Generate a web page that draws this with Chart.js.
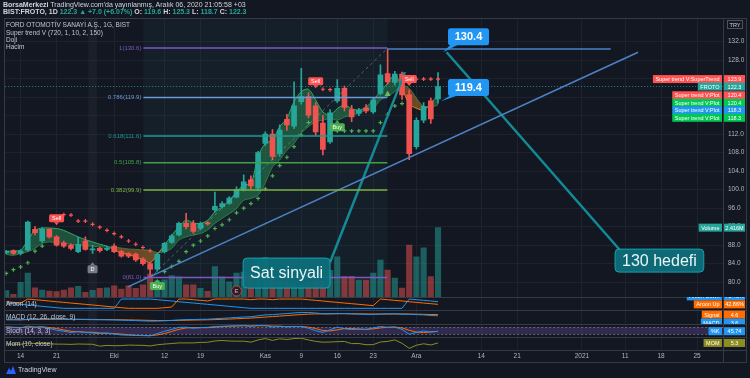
<!DOCTYPE html>
<html><head><meta charset="utf-8">
<script src="https://cdn.jsdelivr.net/npm/chart.js@4.4.1/dist/chart.umd.min.js"></script>
<style>
html,body{margin:0;padding:0;background:#131722;}
#wrap{position:relative;width:750px;height:378px;overflow:hidden;background:#131722;font-family:'Liberation Sans',Arial,sans-serif;}
canvas{position:absolute;left:0;top:0;}
.t{position:absolute;white-space:nowrap;color:#d1d4dc;font-size:7px;line-height:8px;}
.s{font-size:6.5px;color:#c3c6ce;}
.g{color:#26a69a;}
</style></head><body>
<div id="wrap">
<canvas id="c" width="750" height="378"></canvas>
<div class="t" style="left:3px;top:1px;"><b>BorsaMerkezi</b> TradingView.com'da yayınlanmış, Aralık 06, 2020 21:05:58 +03</div>
<div class="t" style="left:3px;top:8px;"><b>BIST:FROTO, 1D</b> <b class="g">122.3 ▲ +7.0 (+6.07%)</b> <b>O:</b> <b class="g">119.6</b> <b>H:</b> <b class="g">125.3</b> <b>L:</b> <b class="g">118.7</b> <b>C:</b> <b class="g">122.3</b></div>
<div class="t s" style="left:6px;top:21px;">FORD OTOMOTİV SANAYİ A.Ş., 1G, BIST</div>
<div class="t s" style="left:6px;top:28.5px;">Super trend V (720, 1, 10, 2, 150)</div>
<div class="t s" style="left:6px;top:36px;">Doji</div>
<div class="t s" style="left:6px;top:43px;">Hacim</div>
<div class="t s" style="left:6px;top:300px;">Aroon (14)</div>
<div class="t s" style="left:6px;top:313px;">MACD (12, 26, close, 9)</div>
<div class="t s" style="left:6px;top:326.5px;">Stoch (14, 3, 3)</div>
<div class="t s" style="left:6px;top:339.5px;">Mom (10, close)</div>
<svg style="position:absolute;left:5px;top:365px" width="12" height="10" viewBox="0 0 12 10"><path d="M1 9 L4 3 L6 6 L8 1 L11 9 Z" fill="#2962ff"/></svg>
<div class="t" style="left:18px;top:366px;">TradingView</div>
</div>
<script>
// ---------- DATA ----------
const dates = ['2020-09-10','2020-09-11','2020-09-14','2020-09-15','2020-09-16','2020-09-17','2020-09-18','2020-09-21','2020-09-22','2020-09-23','2020-09-24','2020-09-25','2020-09-28','2020-09-29','2020-09-30',
'2020-10-01','2020-10-02','2020-10-05','2020-10-06','2020-10-07','2020-10-08','2020-10-09','2020-10-12','2020-10-13','2020-10-14','2020-10-15','2020-10-16','2020-10-19','2020-10-20','2020-10-21','2020-10-22','2020-10-23','2020-10-26','2020-10-27','2020-10-28','2020-10-30',
'2020-11-02','2020-11-03','2020-11-04','2020-11-05','2020-11-06','2020-11-09','2020-11-10','2020-11-11','2020-11-12','2020-11-13','2020-11-16','2020-11-17','2020-11-18','2020-11-19','2020-11-20','2020-11-23','2020-11-24','2020-11-25','2020-11-26','2020-11-27','2020-11-30',
'2020-12-01','2020-12-02','2020-12-03','2020-12-04'];
const open  = [86.3,86.8,86.2,86.9,91.4,88.9,91.4,89.8,88.5,88.0,86.6,88.9,87.0,87.3,87.1,87.8,86.6,86.2,86.1,85.0,84.0,82.8,86.6,88.6,90.2,92.8,92.7,91.6,92.8,95.6,96.3,97.0,98.4,100.0,102.1,100.3,110.0,112.0,107.8,115.2,113.7,119.0,120.1,118.1,114.4,110.3,119.2,121.9,117.3,116.5,117.7,116.8,120.8,125.1,123.2,125.0,120.5,109.3,115.0,119.2,119.6];
const high  = [86.9,87.0,87.0,93.2,92.0,91.8,91.6,90.1,88.9,88.3,89.7,89.8,88.0,87.6,87.7,88.3,86.9,86.4,86.3,85.3,84.3,86.3,88.6,90.3,93.0,94.9,93.3,93.0,93.0,99.5,97.4,98.5,100.6,103.2,103.0,108.3,112.5,113.0,114.0,116.3,123.3,126.2,121.0,118.8,116.0,117.3,123.8,122.4,118.2,117.6,118.4,119.8,127.0,130.4,125.6,125.4,121.5,115.5,118.8,119.8,125.3];
const low   = [86.1,86.0,85.9,86.7,90.2,88.6,89.5,87.8,87.5,87.0,86.4,86.9,86.2,86.5,86.8,86.4,85.4,85.3,84.5,83.7,81.0,82.4,86.3,88.4,90.0,91.5,90.6,91.3,92.3,95.2,96.0,96.8,98.2,99.7,100.2,99.8,109.5,106.4,107.2,112.8,113.2,118.5,115.5,111.8,107.5,110.0,118.8,117.0,114.7,116.0,116.6,116.5,120.5,122.8,122.6,119.5,106.5,108.8,114.5,114.3,118.7];
const close = [86.7,86.2,86.7,93.0,90.7,91.4,89.8,88.0,87.8,87.3,88.2,87.1,87.2,86.8,87.3,86.6,85.6,85.6,84.8,84.0,82.8,86.0,88.4,90.0,92.7,92.0,91.0,92.7,92.6,96.4,97.0,98.2,100.0,101.7,100.8,108.0,112.0,107.2,112.9,114.0,118.1,120.1,116.1,112.5,108.7,116.6,121.9,117.8,115.7,117.2,117.0,119.4,124.8,123.3,125.0,120.5,107.8,115.0,118.0,115.3,122.3];
const volumeM = [0.22,0.09,0.51,0.83,0.32,0.24,0.21,0.19,0.24,0.32,0.37,0.16,0.23,0.30,0.32,0.39,0.28,0.39,0.30,0.42,0.80,0.57,0.60,0.75,0.70,0.42,0.42,0.30,0.20,1.06,0.70,0.53,0.83,0.87,0.80,1.30,1.37,0.65,0.55,0.50,0.45,0.45,0.50,0.55,0.55,0.93,1.40,0.72,0.72,0.59,0.59,0.83,1.29,0.94,0.66,0.31,1.81,1.40,1.71,0.71,2.416];
// Super trend V band (fast / slow) and stop crosses
const stFast = [86.6,86.8,86.9,89.1,91.2,91.7,91.7,91.6,91.2,90.5,89.8,89.2,88.7,88.2,87.8,87.0,86.3,86.0,85.4,84.9,84.2,86.0,88.0,90.1,92.0,93.4,92.8,92.7,93.4,95.2,96.3,97.7,99.5,101.0,101.3,107.1,110.0,110.7,113.6,115.4,119.0,121.2,121.7,119.4,116.8,116.1,117.5,118.3,117.5,117.2,117.8,119.4,121.2,123.0,124.8,122.0,118.5,117.6,117.2,118.7,120.4];
const stSlow = [86.0,85.8,86.2,86.6,87.3,88.4,88.7,88.5,88.4,88.2,88.0,87.8,87.8,87.6,87.6,87.6,87.4,87.2,87.1,87.0,86.9,86.4,86.6,87.3,89.1,89.8,90.2,90.5,91.3,92.7,93.8,94.8,95.9,97.7,98.1,98.8,101.5,104.9,106.4,108.5,110.0,112.2,113.6,114.7,115.0,115.4,115.0,115.7,116.1,116.5,117.2,117.5,119.4,120.1,121.2,122.5,121.9,119.8,118.0,117.8,118.3];
const stUp = [81.9,82.7,83.3,84.2,86.7,87.8,null,null,null,null,null,null,null,null,null,null,null,null,null,null,null,null,82.3,83.4,84.5,86.6,88.0,88.9,90.0,91.6,92.4,93.5,95.0,96.0,97.0,98.1,100.2,103.0,105.2,107.0,109.3,111.8,114.5,null,null,null,112.7,112.7,112.7,112.7,112.7,112.7,114.5,116.3,118.1,118.6,null,null,null,null,null];
const stDown = [null,null,null,null,null,null,null,null,94.6,94.5,93.2,93.2,92.5,91.9,91.2,90.5,89.8,88.9,88.2,87.5,86.8,null,null,null,null,null,null,null,null,null,null,null,null,null,null,null,null,null,null,null,null,null,null,null,121.7,121.6,null,null,null,null,null,null,null,null,null,null,null,123.9,123.9,123.9,123.9];
// indicators
const aroonUp = [71,64,57,100,93,86,79,71,64,57,50,43,36,29,21,14,7,0,0,0,0,0,7,14,100,100,93,86,79,100,100,100,100,100,93,100,100,93,100,100,100,100,93,86,79,71,64,57,50,43,36,29,100,93,86,79,71,64,57,50,42.86];
const aroonDown = [57,50,43,36,29,21,14,7,0,0,0,0,0,0,0,0,100,100,100,100,100,93,86,79,71,64,57,50,43,36,29,21,14,7,0,0,0,0,0,0,0,0,0,0,0,0,0,0,0,0,0,0,0,0,0,0,100,93,86,79,71.43];
const macdLine = [0.30,0.25,0.20,0.60,0.80,1.00,1.00,0.90,0.75,0.60,0.55,0.45,0.35,0.25,0.20,0.10,-0.10,-0.25,-0.45,-0.65,-0.90,-0.80,-0.55,-0.25,0.15,0.40,0.50,0.65,0.75,1.10,1.45,1.80,2.20,2.60,2.80,3.60,4.40,4.60,5.10,5.50,6.00,6.40,6.40,6.00,5.30,5.30,5.60,5.50,5.20,5.00,4.80,4.80,5.10,5.20,5.30,5.00,4.90,4.60,4.40,3.90,3.60];
const macdSignal = [0.40,0.38,0.34,0.39,0.47,0.58,0.66,0.71,0.72,0.70,0.67,0.63,0.57,0.51,0.45,0.38,0.28,0.17,0.05,-0.09,-0.25,-0.36,-0.40,-0.37,-0.26,-0.13,0.00,0.13,0.25,0.42,0.63,0.86,1.13,1.42,1.69,2.07,2.53,2.94,3.37,3.80,4.24,4.67,5.02,5.22,5.24,5.25,5.32,5.36,5.33,5.26,5.17,5.10,5.10,5.12,5.15,5.12,5.07,4.98,4.86,4.72,4.60];
const stochK = [85,78,75,92,80,84,70,55,45,35,42,35,30,25,28,20,12,10,8,6,5,25,45,62,80,82,72,78,80,88,90,92,94,96,88,97,98,82,90,85,88,87,72,50,35,58,82,68,60,65,62,75,88,80,82,62,18,35,48,38,45.74];
const stochD = [83,81,79,82,82,85,78,70,57,45,41,37,36,30,28,24,20,14,10,8,6,12,25,44,62,75,78,77,77,82,86,90,92,94,93,94,94,92,90,86,88,87,82,70,52,48,58,69,70,64,62,67,75,81,83,75,54,38,34,40,44];
const momentum = [2.0,1.0,0.3,5.2,3.1,4.0,2.2,1.1,0.9,0.2,1.5,0.9,0.5,-6.2,-3.4,-4.8,-4.2,-2.4,-3.0,-3.3,-5.4,-1.1,1.2,3.2,5.4,5.4,5.4,7.1,7.8,12.4,14.2,12.2,11.6,11.7,8.1,16.0,21.0,14.5,20.3,17.6,21.1,21.9,16.1,10.8,7.9,8.6,9.9,10.6,2.8,3.2,-1.1,-0.7,8.7,10.8,16.3,3.9,-14.1,-2.8,2.3,-1.9,5.3];
// axes
const tickIdx  = [2,7,15,22,27,36,41,46,51,57,66,71,80,86,91,96];
const tickText = ['14','21','Eki','12','19','Kas','9','16','23','Ara','14','21','2021','11','18','25'];
const priceTicks = [80,84,88,92,96,100,104,108,112,116,120,124,128,132];
// fibonacci drawing
const fibRatios = ['1','0.786','0.618','0.5','0.382','0'];
const fibPrices = [130.6,119.9,111.6,105.8,99.9,81.0];
const fibSpan = [19.07,52.96];
// drawings (bar index, price)
const trendBlue = [[16.9,79.0],[87.8,129.7]];
const level1304 = [[52.9,130.4],[84.0,130.4]];
const fibDiag = [[20,81.0],[53,130.6]];
const tealToSell = [[45.0,84.3],[55.4,125.4]];
const tealToTarget = [[61.2,129.7],[85.3,86.9]];
const signalTags = [{i:7,text:'Sell',p:92.3},{i:21,text:'Buy',p:80.7},{i:43,text:'Sell',p:121.9},{i:46,text:'Buy',p:115.0},{i:56,text:'Sell',p:122.4}];
const dojiTag = {i:12,p:84.3};
const earnIdx = 32;
const triIdx = 53, triPrice = 120.8;
const notes = [{text:'Sat sinyali',i:32.92,p:85.21},{text:'130 hedefi',i:84.6,p:87.15}];
const priceNotes = [{text:'130.4',i:61.39,p:134.9,ti:60.7,tp:129.7},{text:'119.4',i:61.39,p:123.9,ti:60.4,tp:119.1}];
const lastPrice = 122.3;
const rightNames = ['Super trend V:SuperTrend','FROTO','Super trend V:Plot','Super trend V:Plot','Super trend V:Plot','Super trend V:Plot'];
const rightValues = [123.9,122.3,120.4,120.4,118.3,118.3];

// ---------- STYLE ----------
const FF = "'Liberation Sans', Arial, sans-serif";
const UPC='#26a69a', DNC='#ef5350', GRID='#1e222d', BORDER='#363a45';
const rightColors = ['#ff5252','#26a69a','#ff5252','#00c853','#2196f3','#00c853'];
const fibColors = ['#7e57c2','#6a9bd8','#1e9c8f','#43a047','#7cb342','#7e57c2'];
Chart.defaults.font.family = FF;
Chart.defaults.font.size = 6.5;
Chart.defaults.color = '#b2b5be';

const isUp = i => close[i] >= open[i];
const pts = arr => arr.map((v,i)=> v==null?null:{x:i,y:v}).filter(Boolean);
const seg = (a,col,w,dash) => ({type:'line',data:a.map(q=>({x:q[0],y:q[1]})),yAxisID:'y',borderColor:col,borderWidth:w,borderDash:dash||[],pointRadius:0,fill:false,order:1});

function rr(ctx,x,y,w,h,r){ctx.beginPath();ctx.moveTo(x+r,y);ctx.arcTo(x+w,y,x+w,y+h,r);ctx.arcTo(x+w,y+h,x,y+h,r);ctx.arcTo(x,y+h,x,y,r);ctx.arcTo(x,y,x+w,y,r);ctx.closePath();}
function tag(ctx,cx,tip,text,color,down){
  ctx.font='5.5px '+FF;
  const w=Math.round(ctx.measureText(text).width)+6,h=8,g=3;
  ctx.fillStyle=color;
  let top;
  ctx.beginPath();
  if(down){top=tip-g-h;ctx.moveTo(cx-2.5,tip-g);ctx.lineTo(cx+2.5,tip-g);ctx.lineTo(cx,tip);}
  else{top=tip+g;ctx.moveTo(cx-2.5,tip+g);ctx.lineTo(cx+2.5,tip+g);ctx.lineTo(cx,tip);}
  ctx.closePath();ctx.fill();
  rr(ctx,cx-w/2,top,w,h,1.5);ctx.fill();
  ctx.fillStyle='#fff';ctx.textAlign='center';ctx.textBaseline='middle';
  ctx.fillText(text,cx,top+h/2+0.5);
}
function rlabel(ctx,ax,yc,name,val,bg){
  ctx.font='5.5px '+FF;
  const nw=ctx.measureText(name).width+5;
  ctx.fillStyle=bg;
  ctx.fillRect(ax-1-nw,yc-4,nw,8);
  ctx.fillRect(ax+1,yc-4,21,8);
  ctx.fillStyle='#fff';ctx.textAlign='center';ctx.textBaseline='middle';
  ctx.fillText(name,ax-1-nw/2,yc+0.5);
  ctx.fillText(val,ax+11.5,yc+0.5);
}
function stackLabels(list,gap,up){
  list.sort((a,b)=>a.y-b.y);
  if(!up){for(let k=1;k<list.length;k++) if(list[k].y-list[k-1].y<gap) list[k].y=list[k-1].y+gap;}
  else{for(let k=list.length-2;k>=0;k--) if(list[k+1].y-list[k].y<gap) list[k].y=list[k+1].y-gap;}
  return list;
}

const overlay = {
  id:'overlay',
  beforeDatasetsDraw(chart){
    const {ctx,chartArea:ca,scales:s}=chart;
    const X=v=>s.x.getPixelForValue(v), Y=v=>s.y.getPixelForValue(v);
    ctx.save();
    // fib range background
    ctx.fillStyle='rgba(40,110,120,0.10)';
    ctx.fillRect(X(fibSpan[0]),s.y.top,X(fibSpan[1])-X(fibSpan[0]),s.y.bottom-s.y.top);
    // doji bar highlight
    ctx.fillStyle='rgba(255,255,255,0.035)';
    ctx.fillRect(X(dojiTag.i-0.6),ca.top,X(dojiTag.i+0.6)-X(dojiTag.i-0.6),ca.bottom-ca.top);
    // stoch band
    const ys=s.yS;
    ctx.fillStyle='rgba(126,87,194,0.30)';
    ctx.fillRect(ca.left,ys.getPixelForValue(80),ca.right-ca.left,ys.getPixelForValue(20)-ys.getPixelForValue(80));
    ctx.strokeStyle='rgba(150,152,160,0.6)';ctx.lineWidth=1;ctx.setLineDash([2,2]);
    [80,20].forEach(v=>{const yy=Math.round(ys.getPixelForValue(v))+0.5;ctx.beginPath();ctx.moveTo(ca.left,yy);ctx.lineTo(ca.right,yy);ctx.stroke();});
    // last price line
    ctx.strokeStyle='rgba(38,166,154,0.8)';ctx.setLineDash([1,2]);
    const ly=Math.round(Y(lastPrice))+0.5;ctx.beginPath();ctx.moveTo(ca.left,ly);ctx.lineTo(ca.right,ly);ctx.stroke();
    ctx.setLineDash([]);
    ctx.restore();
  },
  afterDatasetsDraw(chart){
    const {ctx,chartArea:ca,scales:s}=chart;
    const X=v=>s.x.getPixelForValue(v), Y=v=>s.y.getPixelForValue(v);
    ctx.save();
    // fib labels
    ctx.font='6px '+FF;ctx.textAlign='right';ctx.textBaseline='middle';
    fibRatios.forEach((r,k)=>{ctx.fillStyle=fibColors[k];ctx.fillText(r+'('+fibPrices[k].toFixed(1)+')',X(fibSpan[0])-2,Y(fibPrices[k]));});
    // buy / sell tags
    signalTags.forEach(t=>tag(ctx,X(t.i),Y(t.p),t.text,t.text==='Sell'?'#ff5252':'#4caf50',t.text==='Sell'));
    // doji tag
    tag(ctx,X(dojiTag.i),Y(dojiTag.p),'D','#787b86',false);
    // earnings
    const ex=X(earnIdx), ey=s.y.bottom-6;
    ctx.beginPath();ctx.arc(ex,ey,5,0,Math.PI*2);ctx.fillStyle='#1e222d';ctx.fill();ctx.strokeStyle='#c2414a';ctx.lineWidth=1;ctx.stroke();
    ctx.fillStyle='#f08080';ctx.font='bold 6px '+FF;ctx.textAlign='center';ctx.fillText('E',ex,ey+0.5);
    // green triangle
    const tx=X(triIdx), ty=Y(triPrice);
    ctx.fillStyle='#66bb6a';ctx.beginPath();ctx.moveTo(tx-3,ty+2.5);ctx.lineTo(tx+3,ty+2.5);ctx.lineTo(tx,ty-3);ctx.closePath();ctx.fill();
    // teal callouts
    ctx.font='16px '+FF;
    notes.forEach(n=>{
      const w=ctx.measureText(n.text).width+14,h=n.text==='Sat sinyali'?30:23;
      const x0=X(n.i),y0=Y(n.p);
      rr(ctx,x0,y0,w,h,4);ctx.fillStyle='rgba(12,112,124,0.93)';ctx.fill();ctx.strokeStyle='#1aa0ad';ctx.lineWidth=1;ctx.stroke();
      ctx.fillStyle='#eaf6f6';ctx.textAlign='left';ctx.textBaseline='middle';ctx.fillText(n.text,x0+7,y0+h/2+1);
    });
    // price callouts
    ctx.font='bold 11px '+FF;
    priceNotes.forEach(n=>{
      const x0=X(n.i),y0=Y(n.p),w=41,h=17;
      ctx.fillStyle='#2196f3';
      ctx.beginPath();ctx.moveTo(x0+3,y0+h-1);ctx.lineTo(x0+11,y0+h-1);ctx.lineTo(X(n.ti),Y(n.tp));ctx.closePath();ctx.fill();
      rr(ctx,x0,y0,w,h,2.5);ctx.fill();
      ctx.fillStyle='#fff';ctx.textAlign='center';ctx.textBaseline='middle';ctx.fillText(n.text,x0+w/2,y0+h/2+0.5);
    });
    ctx.restore();
  },
  afterDraw(chart){
    const {ctx,chartArea:ca,scales:s}=chart;
    const ax=s.y.left;
    ctx.save();
    // frame & pane separators
    ctx.strokeStyle=BORDER;ctx.lineWidth=1;
    ctx.strokeRect(4.5,18.5,742,344);
    [s.yA.top,s.yM.top,s.yS.top,s.yO.top,ca.bottom].forEach(v=>{const yy=Math.round(v)+0.5;ctx.beginPath();ctx.moveTo(4,yy);ctx.lineTo(747,yy);ctx.stroke();});
    ctx.beginPath();ctx.moveTo(Math.round(ax)+0.5,18);ctx.lineTo(Math.round(ax)+0.5,362);ctx.stroke();
    // TRY box
    ctx.strokeStyle='#50535e';ctx.strokeRect(727.5,20.5,15,8);
    ctx.fillStyle='#d1d4dc';ctx.font='5.5px '+FF;ctx.textAlign='center';ctx.textBaseline='middle';ctx.fillText('TRY',735,25);
    // right price labels
    const list=stackLabels(rightNames.map((n,k)=>({n,v:rightValues[k],c:rightColors[k],y:s.y.getPixelForValue(rightValues[k])})),7.5,false);
    list.forEach(l=>rlabel(ctx,ax,l.y,l.n,l.v.toFixed(1),l.c));
    rlabel(ctx,ax,s.yV.getPixelForValue(volumeM[volumeM.length-1]),'Volume',volumeM[volumeM.length-1].toFixed(3)+'M','#26a69a');
    // indicator labels (clipped to panes)
    const pane=(sc,items,up)=>{
      ctx.save();ctx.beginPath();ctx.rect(0,sc.top,750,sc.bottom-sc.top);ctx.clip();
      stackLabels(items.map(it=>({...it,y:sc.getPixelForValue(it.v)})),8,up).forEach(l=>rlabel(ctx,ax,l.y,l.n,l.t,l.c));
      ctx.restore();
    };
    const L=a=>a[a.length-1];
    pane(s.yA,[{n:'Aroon Down',v:L(aroonDown),t:L(aroonDown).toFixed(2)+'%',c:'#2196f3'},{n:'Aroon Up',v:L(aroonUp),t:L(aroonUp).toFixed(2)+'%',c:'#ff6d00'}],true);
    pane(s.yM,[{n:'Signal',v:L(macdSignal),t:L(macdSignal).toFixed(1),c:'#ff6d00'},{n:'MACD',v:L(macdLine),t:L(macdLine).toFixed(1),c:'#2196f3'}],false);
    pane(s.yS,[{n:'%K',v:L(stochK),t:L(stochK).toFixed(2),c:'#2196f3'}],false);
    pane(s.yO,[{n:'MOM',v:L(momentum),t:L(momentum).toFixed(1),c:'#8d8d21'}],false);
    ctx.restore();
  }
};

const idxs = dates.map((d,i)=>i);
const datasets = [
  {type:'bar',label:'Hacim',data:idxs.map(i=>({x:i,y:volumeM[i]})),yAxisID:'yV',backgroundColor:c=>isUp(c.dataIndex)?'rgba(38,166,154,0.5)':'rgba(239,83,80,0.5)',barThickness:5.5,grouped:false,order:20},
  {type:'line',label:'stSlow',data:idxs.map(i=>({x:i,y:stSlow[i]})),yAxisID:'y',borderColor:'rgba(40,150,90,0.7)',borderWidth:1,pointRadius:0,tension:0.3,fill:false,order:15},
  {type:'line',label:'stFast',data:idxs.map(i=>({x:i,y:stFast[i]})),yAxisID:'y',borderWidth:1,pointRadius:0,tension:0.3,
    segment:{borderColor:c=>stFast[c.p0DataIndex]>=stSlow[c.p0DataIndex]?'#2fae66':'#e08a2a'},
    fill:{target:1,above:'rgba(46,160,95,0.42)',below:'rgba(215,130,40,0.45)'},order:14},
  {type:'bar',label:'wick',data:idxs.map(i=>({x:i,y:[low[i],high[i]]})),yAxisID:'y',backgroundColor:c=>isUp(c.dataIndex)?UPC:DNC,barThickness:1,grouped:false,order:6},
  {type:'bar',label:'body',data:idxs.map(i=>({x:i,y:[open[i],close[i]]})),yAxisID:'y',backgroundColor:c=>isUp(c.dataIndex)?UPC:DNC,barThickness:5,minBarLength:1,grouped:false,order:5},
  {type:'line',label:'stUp',data:pts(stUp),yAxisID:'y',showLine:false,pointStyle:'cross',pointRadius:2,pointBorderColor:'#4caf50',pointBorderWidth:1.2,order:4},
  {type:'line',label:'stDown',data:pts(stDown),yAxisID:'y',showLine:false,pointStyle:'cross',pointRadius:2,pointBorderColor:'#ff5252',pointBorderWidth:1.2,order:4},
  ...fibPrices.map((p,k)=>seg([[fibSpan[0],p],[fibSpan[1],p]],fibColors[k],1.5)),
  seg(fibDiag,'rgba(170,172,180,0.45)',1,[3,3]),
  seg(trendBlue,'#4d83c4',1.5),
  seg(level1304,'#4d83c4',1.5),
  seg(tealToSell,'#138a96',2.5),
  seg(tealToTarget,'#138a96',2.5),
  {type:'line',label:'Aroon Up',data:idxs.map(i=>({x:i,y:aroonUp[i]})),yAxisID:'yA',borderColor:'#ff6d00',borderWidth:1,pointRadius:0,order:3},
  {type:'line',label:'Aroon Down',data:idxs.map(i=>({x:i,y:aroonDown[i]})),yAxisID:'yA',borderColor:'#2196f3',borderWidth:1,pointRadius:0,order:3},
  {type:'line',label:'MACD',data:idxs.map(i=>({x:i,y:macdLine[i]})),yAxisID:'yM',borderColor:'#2196f3',borderWidth:1,pointRadius:0,order:3},
  {type:'line',label:'Signal',data:idxs.map(i=>({x:i,y:macdSignal[i]})),yAxisID:'yM',borderColor:'#ff6d00',borderWidth:1,pointRadius:0,order:3},
  {type:'line',label:'%K',data:idxs.map(i=>({x:i,y:stochK[i]})),yAxisID:'yS',borderColor:'#2196f3',borderWidth:1,pointRadius:0,order:3},
  {type:'line',label:'%D',data:idxs.map(i=>({x:i,y:stochD[i]})),yAxisID:'yS',borderColor:'#ff6d00',borderWidth:1,pointRadius:0,order:3},
  {type:'line',label:'Mom',data:idxs.map(i=>({x:i,y:momentum[i]})),yAxisID:'yO',borderColor:'#8d8d21',borderWidth:1,pointRadius:0,order:3}
];

const paneAxis = (w,min,max)=>({type:'linear',position:'right',stack:'panes',stackWeight:w,min,max,grid:{display:false},border:{color:BORDER},ticks:{display:false},afterFit:s=>{s.width=23;}});

new Chart(document.getElementById('c'),{
  type:'line',
  data:{datasets},
  options:{
    responsive:false,animation:false,
    layout:{padding:{left:5,right:4,top:18,bottom:16}},
    plugins:{legend:{display:false},tooltip:{enabled:false}},
    scales:{
      x:{type:'linear',min:-0.14,max:99.6,offset:false,
        grid:{color:GRID,drawTicks:false,offset:false},border:{color:BORDER},
        ticks:{autoSkip:false,maxRotation:0,padding:2,color:'#b2b5be',font:{size:6.5},callback:(v,k)=>tickText[k]},
        afterBuildTicks:s=>{s.ticks=tickIdx.map(v=>({value:v}));},
        afterFit:s=>{s.height=12;}},
      y:{type:'linear',position:'right',stack:'panes',stackWeight:279,min:76.8,max:137.1,
        grid:{color:GRID,drawTicks:false},border:{color:BORDER},
        ticks:{padding:5,color:'#b2b5be',font:{size:6.5},callback:v=>v.toFixed(1)},
        afterBuildTicks:s=>{s.ticks=priceTicks.map(v=>({value:v}));},
        afterFit:s=>{s.width=23;}},
      yA:paneAxis(13,-18,122),
      yM:paneAxis(14,-3.3,8.5),
      yS:paneAxis(13,-6,110),
      yO:paneAxis(13,-20,26.6),
      yV:{type:'linear',display:false,position:'right',min:-1.847,max:9.721}
    }
  },
  plugins:[overlay]
});
</script>
</body></html>
